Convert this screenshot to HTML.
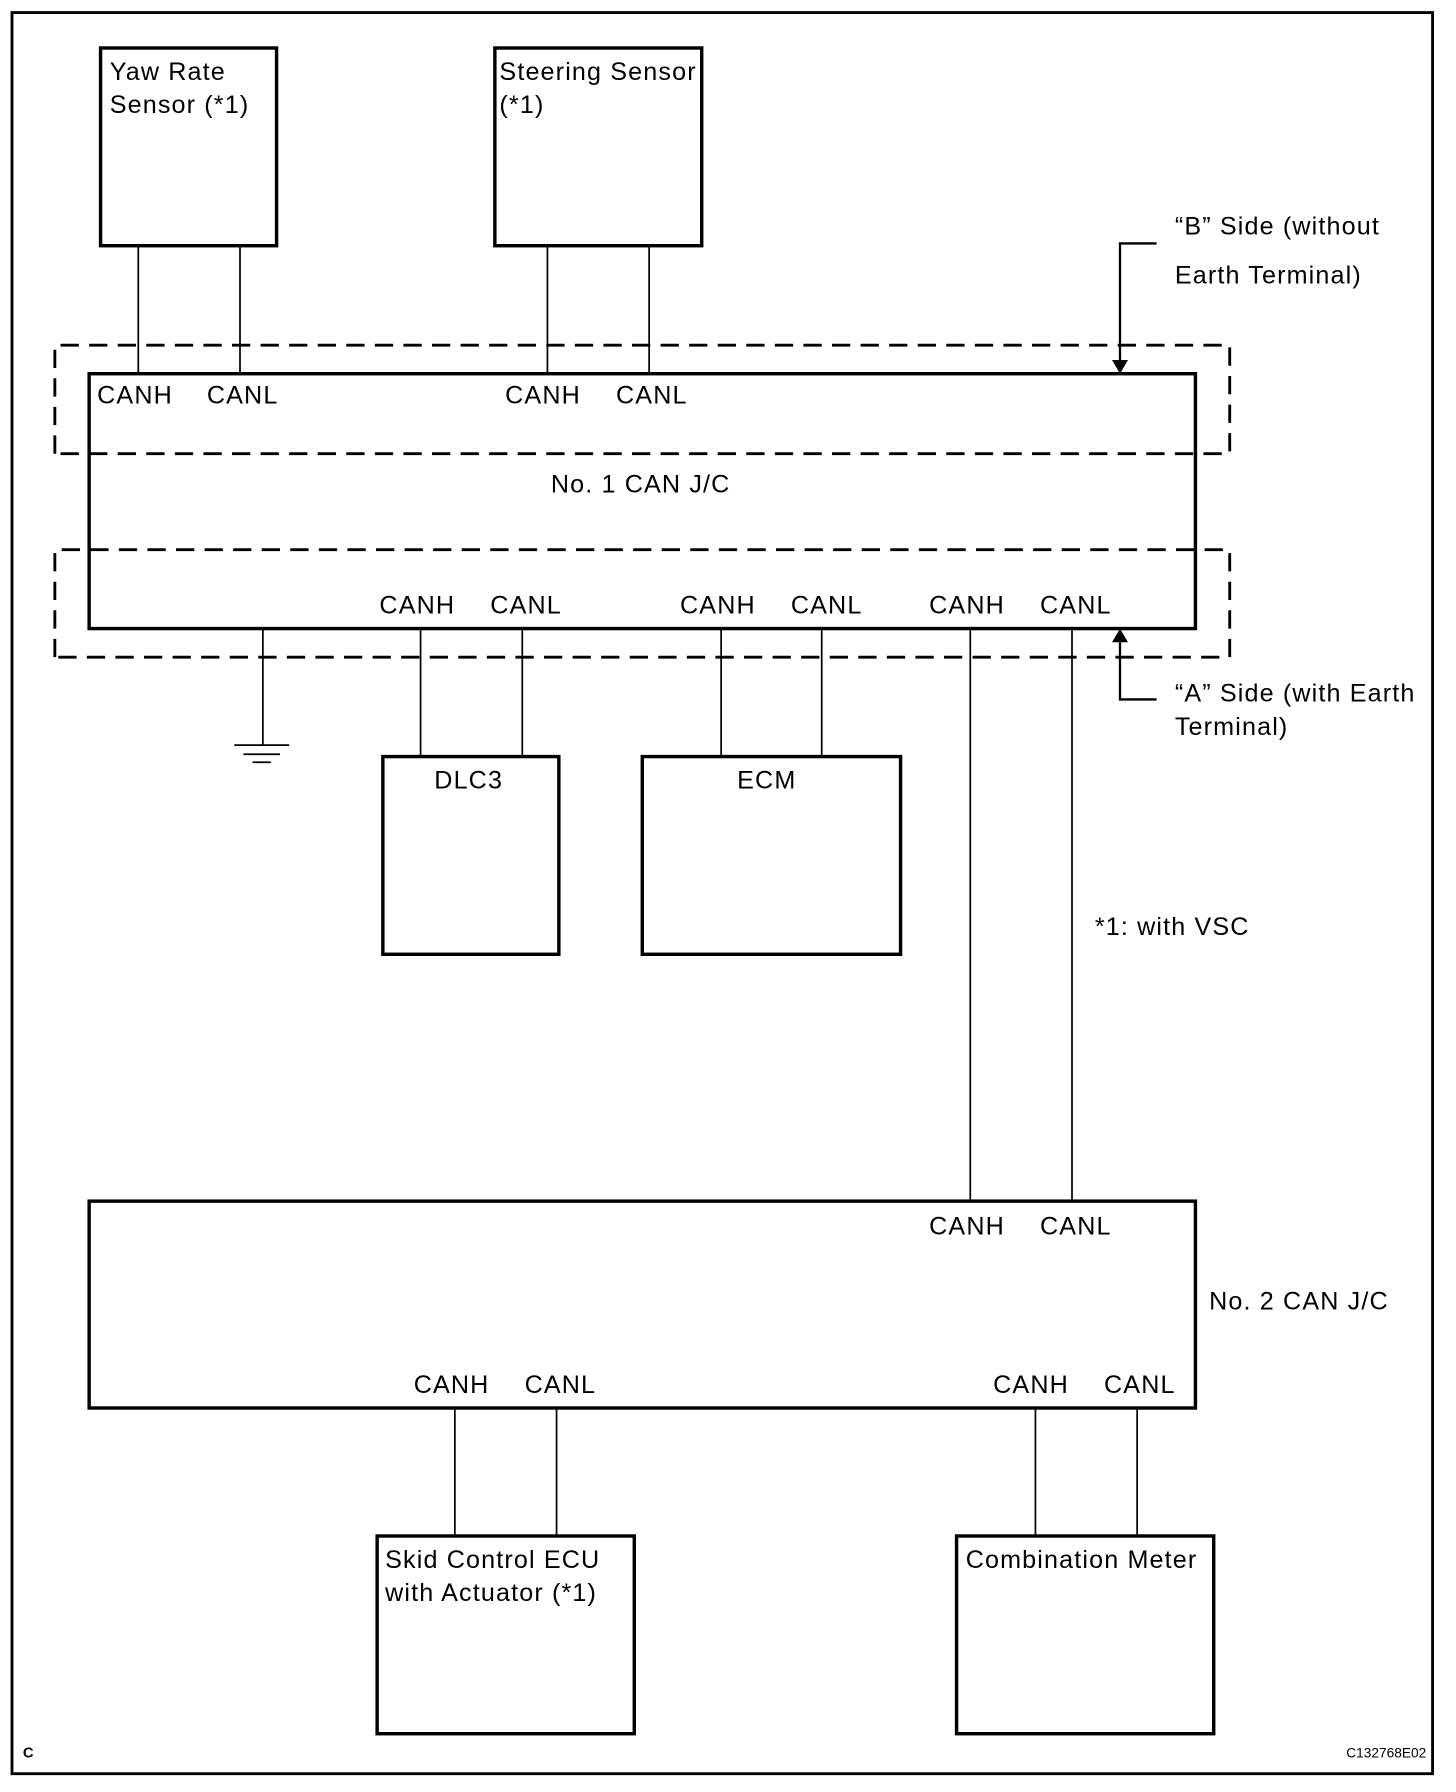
<!DOCTYPE html>
<html><head><meta charset="utf-8"><style>
html,body{margin:0;padding:0;background:#fff}
svg{display:block}
text{font-family:"Liberation Sans",Arial,sans-serif;font-size:22px;fill:#000;letter-spacing:1px}
</style></head><body>
<svg width="1456" height="1792" viewBox="0 0 1274 1568" xmlns="http://www.w3.org/2000/svg">
<rect x="0" y="0" width="1274" height="1568" fill="#fff"/>
<rect x="10.5" y="11" width="1243" height="1541" fill="none" stroke="#000" stroke-width="2.5"/>
<g fill="none" stroke="#000" stroke-width="3">
<rect x="88" y="42" width="154" height="173"/>
<rect x="433" y="42" width="181" height="173"/>
<rect x="78" y="327" width="968" height="223"/>
<rect x="335" y="662" width="154" height="173"/>
<rect x="562" y="662" width="226" height="173"/>
<rect x="78" y="1051" width="968" height="181"/>
<rect x="330" y="1344" width="225" height="173"/>
<rect x="837" y="1344" width="225" height="173"/>
</g>
<g fill="none" stroke="#000" stroke-width="2.5" stroke-dasharray="16,9">
<path d="M48,397 V302 H1076 V397 H48"/>
<path d="M48,575 V481 H1076 V575 H48"/>
</g>
<g stroke="#000" stroke-width="1.5" fill="none">
<path d="M121,215V327 M210,215V327 M479,215V327 M568,215V327"/>
<path d="M368,550V662 M457,550V662 M631,550V662 M719,550V662"/>
<path d="M849,550V1051 M938,550V1051"/>
<path d="M398,1232V1344 M487,1232V1344 M906,1232V1344 M995,1232V1344"/>
<path d="M230,550V652 M205,652H253 M213,660H245 M221,667H237"/>
</g>
<g stroke="#000" stroke-width="2" fill="none">
<path d="M1012,213H980V318"/>
<path d="M980,559V612H1012"/>
</g>
<polygon points="973,315 987,315 980,327" fill="#000"/>
<polygon points="973,562 987,562 980,550" fill="#000"/>
<text x="96" y="70">Yaw Rate</text>
<text x="96" y="99">Sensor (*1)</text>
<text x="437" y="70">Steering Sensor</text>
<text x="437" y="99">(*1)</text>
<text x="85" y="353">CANH</text><text x="181" y="353">CANL</text>
<text x="442" y="353">CANH</text><text x="539" y="353">CANL</text>
<text x="482" y="431">No. 1 CAN J/C</text>
<text x="332" y="537">CANH</text><text x="429" y="537">CANL</text>
<text x="595" y="537">CANH</text><text x="692" y="537">CANL</text>
<text x="813" y="537">CANH</text><text x="910" y="537">CANL</text>
<text x="380" y="690">DLC3</text>
<text x="645" y="690">ECM</text>
<text x="1028" y="205">“B” Side (without</text>
<text x="1028" y="248">Earth Terminal)</text>
<text x="1028" y="614">“A” Side (with Earth</text>
<text x="1028" y="643">Terminal)</text>
<text x="958" y="818">*1: with VSC</text>
<text x="813" y="1080">CANH</text><text x="910" y="1080">CANL</text>
<text x="1058" y="1146">No. 2 CAN J/C</text>
<text x="362" y="1219">CANH</text><text x="459" y="1219">CANL</text>
<text x="869" y="1219">CANH</text><text x="966" y="1219">CANL</text>
<text x="337" y="1372">Skid Control ECU</text>
<text x="337" y="1401">with Actuator (*1)</text>
<text x="845" y="1372">Combination Meter</text>
<text x="20" y="1538" style="font-size:13px;font-weight:bold;letter-spacing:0">C</text>
<text x="1178" y="1538" style="font-size:12px;letter-spacing:0">C132768E02</text>
</svg>
</body></html>
